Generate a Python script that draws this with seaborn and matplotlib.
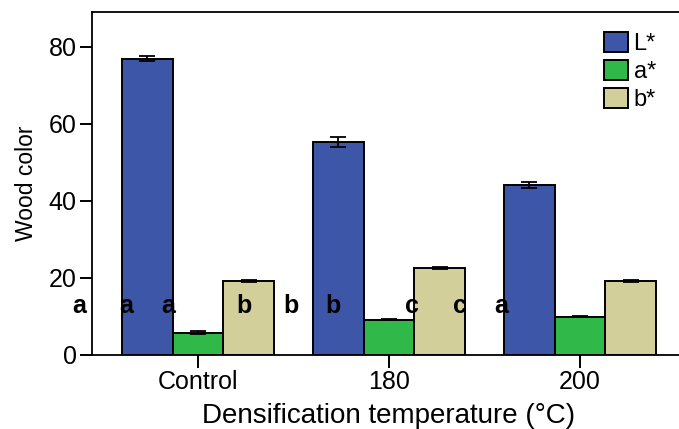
import numpy as np
import pandas as pd
import matplotlib
matplotlib.use('Agg')
import matplotlib.pyplot as plt
import seaborn as sns

# data
groups = ['Control', '180', '200']
params = ['L*', 'a*', 'b*']
L_mean = [76.9, 55.2, 44.1]
a_mean = [5.8, 9.2, 9.9]
b_mean = [19.2, 22.5, 19.2]
L_err = [0.6, 1.3, 0.8]
a_err = [0.4, 0.2, 0.15]
b_err = [0.3, 0.3, 0.3]
letters = ['a', 'a', 'a', 'b', 'b', 'b', 'c', 'c', 'a']
letter_x = [-0.623, -0.377, -0.157, 0.241, 0.487, 0.707, 1.12, 1.372, 1.586]
letter_y = 12.8

colors = ['#3D56A8', '#30B849', '#D3CF9B']

df = pd.DataFrame({
    'Temperature': groups * 3,
    'Parameter': ['L*'] * 3 + ['a*'] * 3 + ['b*'] * 3,
    'Value': L_mean + a_mean + b_mean,
    'Err': L_err + a_err + b_err,
})

sns.set_style('ticks')
plt.rcParams['font.family'] = ['Liberation Sans', 'DejaVu Sans']
plt.rcParams['text.color'] = 'black'
plt.rcParams['axes.labelcolor'] = 'black'
plt.rcParams['xtick.color'] = 'black'
plt.rcParams['ytick.color'] = 'black'

fig = plt.figure(figsize=(6.79, 4.29), dpi=100)
ax = fig.add_axes([92 / 679, 1 - 355 / 429, (686 - 92) / 679, (355 - 12) / 429])

sns.barplot(data=df, x='Temperature', y='Value', hue='Parameter', order=groups,
            hue_order=params, palette=colors, saturation=1, width=0.8, errorbar=None,
            edgecolor='black', linewidth=1.4, ax=ax, legend=True)

# error bars on each bar
for cont, p in zip(ax.containers, params):
    sub = df[df['Parameter'] == p].set_index('Temperature').loc[groups]
    xs = [bar.get_x() + bar.get_width() / 2 for bar in cont]
    ax.errorbar(xs, sub['Value'], yerr=sub['Err'], fmt='none', ecolor='black',
                elinewidth=1.3, capsize=6, capthick=1.3, zorder=5)

for t, x in zip(letters, letter_x):
    ax.text(x, letter_y, t, ha='center', va='center', fontsize=18, fontweight='bold',
            color='black')

ax.set_xlim(-0.555, 2.555)
ax.set_ylim(0, 89)
ax.set_yticks([0, 20, 40, 60, 80])
ax.set_xlabel('Densification temperature (°C)', fontsize=20, labelpad=6)
ax.set_ylabel('Wood color', fontsize=16.5, labelpad=8)
ax.tick_params(axis='both', labelsize=18, length=9, width=1.4, direction='out', pad=2,
               colors='black')
for s in ['left', 'bottom', 'top']:
    ax.spines[s].set_linewidth(1.3)
    ax.spines[s].set_color('black')
ax.spines['right'].set_visible(False)

leg = ax.legend(loc='upper right', bbox_to_anchor=(0.965, 0.97), frameon=False,
                fontsize=17, handlelength=1.0, handleheight=0.95, handletextpad=0.25,
                labelspacing=0.2, borderaxespad=0)
for txt in leg.get_texts():
    txt.set_color('black')

fig.savefig('out.png', dpi=100)
